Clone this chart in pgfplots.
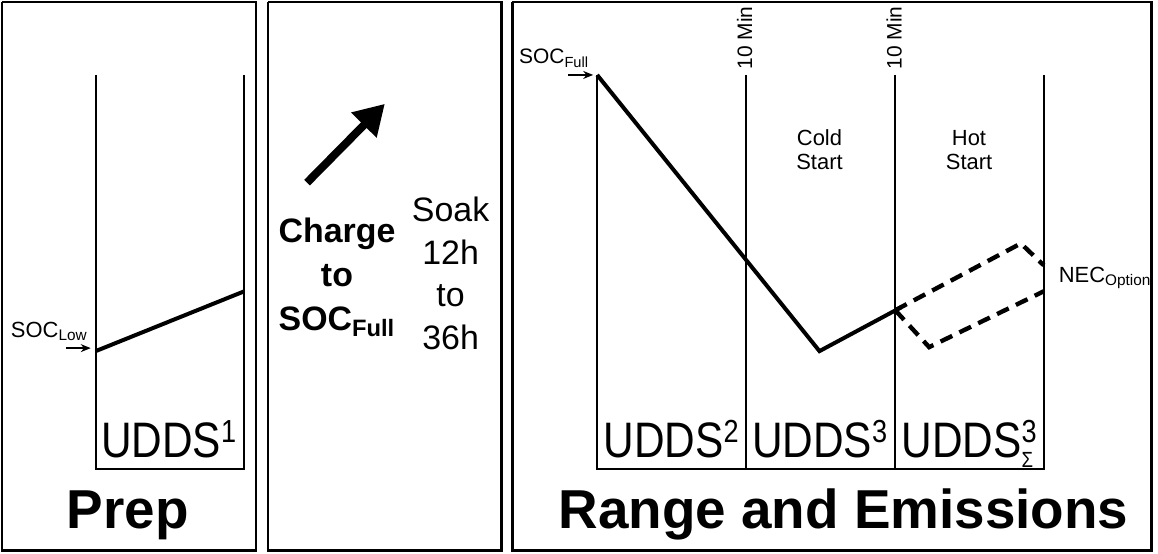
\documentclass[border=0pt]{standalone}
\usepackage{fontspec}
\setmainfont{Liberation Sans}
\usepackage{graphicx}
\usepackage{pgfplots}
\pgfplotsset{compat=1.18}
\usetikzlibrary{arrows.meta}
\newcommand{\udds}[1]{\fontsize{25}{30}\selectfont\scalebox{0.85}[1]{#1}}
\newcommand{\sups}[1]{\raisebox{7.5pt}{\fontsize{16}{16}\selectfont #1}}
\newcommand{\subs}[1]{\raisebox{-5pt}{\fontsize{11}{11}\selectfont #1}}
\begin{document}
\begin{tikzpicture}
\begin{axis}[width=579pt,height=277.5pt,scale only axis,
  xmin=0,xmax=1158,ymin=0,ymax=555,y dir=reverse,hide axis,clip=false]
\addplot[draw=none] coordinates {(0,0)(1158,555)};
% panel frames
\addplot[black,line width=1.2pt] coordinates {(2,2)(257,2)(257,552)(2,552)(2,2)};
\addplot[black,line width=1.2pt] coordinates {(269,2)(503,2)(503,552)(269,552)(269,2)};
\addplot[black,line width=1.2pt] coordinates {(514,2)(1155,2)(1155,552)(514,552)(514,2)};
% panel 1 axes
\addplot[black,line width=0.9pt] coordinates {(96,75)(96,470)(245,470)(245,75)};
\addplot[black,line width=2pt] coordinates {(96,352)(245,292)};
\addplot[black,line width=0.7pt,-{Stealth[length=5pt,width=4pt]}] coordinates {(66,349)(91,349)};
\node[anchor=base east,font=\fontsize{11}{13}\selectfont] at (axis cs:95,338) {SOC\textsubscript{Low}};
\node[anchor=base west,inner xsep=0pt] at (axis cs:101,459) {\udds{UDDS\sups{1}}};
\node[anchor=base,font=\fontsize{27.5}{32}\selectfont\bfseries] at (axis cs:128,530) {Prep};
% panel 2
\addplot[black,line width=4pt,-{Triangle[length=15pt,width=17pt]}] coordinates {(308,183)(386,104)};
\node[align=center,font=\fontsize{17}{22}\selectfont\bfseries] at (axis cs:338,278) {Charge\\to\\SOC\textsubscript{Full}};
\node[align=center,font=\fontsize{17}{21.3}\selectfont] at (axis cs:452,274) {Soak\\12h\\to\\36h};
% panel 3 axes
\addplot[black,line width=0.9pt] coordinates {(599,75)(599,470)(1047,470)(1047,75)};
\addplot[black,line width=0.9pt] coordinates {(748,75)(748,470)};
\addplot[black,line width=0.9pt] coordinates {(898,75)(898,470)};
\addplot[black,line width=2pt] coordinates {(599,75)(822,352)(904,308)};
\addplot[black,line width=2.2pt,dash pattern=on 6.5pt off 4pt] coordinates {(898,311)(1024,244)(1047,266)};
\addplot[black,line width=2.2pt,dash pattern=on 6.5pt off 4pt] coordinates {(898,311)(932,348)(1047,292)};
\addplot[black,line width=0.7pt,-{Stealth[length=5pt,width=4pt]}] coordinates {(570,75)(595,75)};
\node[anchor=base east,font=\fontsize{10.5}{13}\selectfont] at (axis cs:598,64) {SOC\textsubscript{Full}};
\node[anchor=base west,font=\fontsize{11}{13}\selectfont] at (axis cs:1055,283) {NEC\textsubscript{Option}};
\node[rotate=90,font=\fontsize{10.5}{12}\selectfont] at (axis cs:747,38) {10 Min};
\node[rotate=90,font=\fontsize{10.5}{12}\selectfont] at (axis cs:897,38) {10 Min};
\node[align=center,font=\fontsize{11}{12}\selectfont] at (axis cs:822,150) {Cold\\Start};
\node[align=center,font=\fontsize{11}{12}\selectfont] at (axis cs:972,150) {Hot\\Start};
\node[anchor=base west,inner xsep=0pt] at (axis cs:605,459) {\udds{UDDS\sups{2}}};
\node[anchor=base west,inner xsep=0pt] at (axis cs:754,459) {\udds{UDDS\sups{3}}};
\node[anchor=base west,inner xsep=0pt] at (axis cs:904,459) {\udds{UDDS\rlap{\sups{3}}\subs{Σ}}};
\node[anchor=base,font=\fontsize{27.5}{32}\selectfont\bfseries] at (axis cs:846,530) {Range and Emissions};
\end{axis}
\end{tikzpicture}
\end{document}
